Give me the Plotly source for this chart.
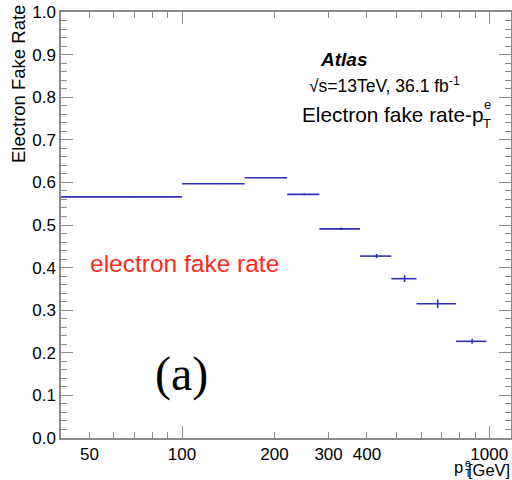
import numpy as np
import plotly.graph_objects as go

# ---- data ----
bin_edges = [40, 100, 160, 220, 280, 380, 480, 580, 780, 980]
fake_rate = [0.566, 0.597, 0.611, 0.572, 0.491, 0.427, 0.374, 0.315, 0.227]
rate_err = [0.001, 0.001, 0.001, 0.002, 0.003, 0.005, 0.008, 0.010, 0.006]

x_labels = [50, 100, 200, 300, 400, 1000]
x_minor = [40, 60, 70, 80, 90, 500, 600, 700, 800, 900]
x_long = [100, 1000]

lo = np.array(bin_edges[:-1], dtype=float)
hi = np.array(bin_edges[1:], dtype=float)
xc = (lo + hi) / 2

BLUE = "#2f2fb8"
GREY = "#8a8a8a"
FONT = "Liberation Sans, Arial, sans-serif"

W, H = 512, 480
ML, MR, MT, MB = 61, 1, 12, 42
pw = W - ML - MR
ph = H - MT - MB

def px(x):
    return (x - ML) / pw

def py(y):
    return (H - MB - y) / ph

fig = go.Figure()
fig.add_trace(go.Scatter(
    x=xc, y=fake_rate, mode="markers",
    marker=dict(size=1, color=BLUE),
    error_x=dict(type="data", symmetric=False, array=hi - xc, arrayminus=xc - lo,
                 color=BLUE, thickness=1.6, width=0),
    error_y=dict(type="data", array=rate_err, color=BLUE, thickness=1.6, width=0),
    showlegend=False, hoverinfo="skip",
))
# invisible trace for the overlay axis carrying the long decade ticks
fig.add_trace(go.Scatter(x=xc, y=fake_rate, mode="markers", marker=dict(opacity=0),
                         xaxis="x2", showlegend=False, hoverinfo="skip"))

xr = [1.606, 3.071]
fig.update_layout(
    width=W, height=H,
    margin=dict(l=ML, r=MR, t=MT, b=MB, pad=0, autoexpand=False),
    paper_bgcolor="white", plot_bgcolor="white",
    font=dict(family=FONT, size=17, color="black"),
    xaxis=dict(
        type="log", range=xr, tickmode="array", tickvals=x_labels,
        ticktext=[str(v) for v in x_labels], automargin=False,
        ticks="inside", ticklen=6, tickwidth=1.3, tickcolor=GREY,
        showline=True, linecolor=GREY, linewidth=1.5, mirror="ticks",
        showgrid=False, zeroline=False,
        tickfont=dict(size=17),
        minor=dict(tickmode="array", tickvals=x_minor, ticks="inside",
                   ticklen=6, tickwidth=1.3, tickcolor=GREY, showgrid=False),
    ),
    xaxis2=dict(
        type="log", range=xr, overlaying="x", side="bottom", automargin=False,
        tickmode="array", tickvals=x_long, showticklabels=False,
        ticks="inside", ticklen=12, tickwidth=1.3, tickcolor=GREY,
        mirror="ticks", showline=False, showgrid=False, zeroline=False,
    ),
    yaxis=dict(
        range=[0, 1.0], tickmode="linear", tick0=0, dtick=0.1, tickformat=".1f",
        automargin=False,
        ticks="inside", ticklen=12, tickwidth=1.3, tickcolor=GREY,
        showline=True, linecolor=GREY, linewidth=1.5, mirror="ticks",
        showgrid=False, zeroline=False, tickfont=dict(size=17),
        minor=dict(dtick=0.02, ticks="inside", ticklen=6, tickwidth=1.3,
                   tickcolor=GREY, showgrid=False),
    ),
)

ann = []
# y title
ann.append(dict(text="Electron Fake Rate", xref="paper", yref="paper",
                x=px(18), y=py(3), xanchor="center", yanchor="top",
                textangle=-90, showarrow=False, font=dict(size=18.5)))
# x title  p^e_T[GeV]
ann.append(dict(text="[GeV]", xref="paper", yref="paper", x=px(512), y=py(470),
                xanchor="right", yanchor="middle", showarrow=False, font=dict(size=16.5)))
ann.append(dict(text="p", xref="paper", yref="paper", x=px(465), y=py(467),
                xanchor="right", yanchor="middle", showarrow=False, font=dict(size=16.5)))
ann.append(dict(text="e", xref="paper", yref="paper", x=px(468), y=py(463),
                xanchor="center", yanchor="middle", showarrow=False, font=dict(size=10)))
ann.append(dict(text="T", xref="paper", yref="paper", x=px(468), y=py(474),
                xanchor="center", yanchor="middle", showarrow=False, font=dict(size=10)))
# top-right text block
ann.append(dict(text="<b><i>Atlas</i></b>", xref="paper", yref="paper",
                x=px(318), y=py(59), xanchor="left", yanchor="middle",
                showarrow=False, font=dict(size=19)))
ann.append(dict(text="√s=13TeV, 36.1 fb<sup>-1</sup>", xref="paper", yref="paper",
                x=px(307), y=py(85), xanchor="left", yanchor="middle",
                showarrow=False, font=dict(size=17.5)))
ann.append(dict(text="Electron fake rate-p", xref="paper", yref="paper",
                x=px(300), y=py(114), xanchor="left", yanchor="middle",
                showarrow=False, font=dict(size=20.8)))
ann.append(dict(text="e", xref="paper", yref="paper", x=px(487), y=py(104),
                xanchor="center", yanchor="middle", showarrow=False, font=dict(size=13)))
ann.append(dict(text="T", xref="paper", yref="paper", x=px(487), y=py(123),
                xanchor="center", yanchor="middle", showarrow=False, font=dict(size=13)))
# red label
ann.append(dict(text="electron fake rate", xref="paper", yref="paper",
                x=px(184), y=py(263), xanchor="center", yanchor="middle",
                showarrow=False, font=dict(size=24.5, color="#ff2a1a")))
# (a)
ann.append(dict(text="(a)", xref="paper", yref="paper",
                x=px(181), y=py(374), xanchor="center", yanchor="middle",
                showarrow=False, font=dict(size=48, family="Liberation Serif, Times New Roman, serif")))
fig.update_layout(annotations=ann)

fig.write_html("out.html")
